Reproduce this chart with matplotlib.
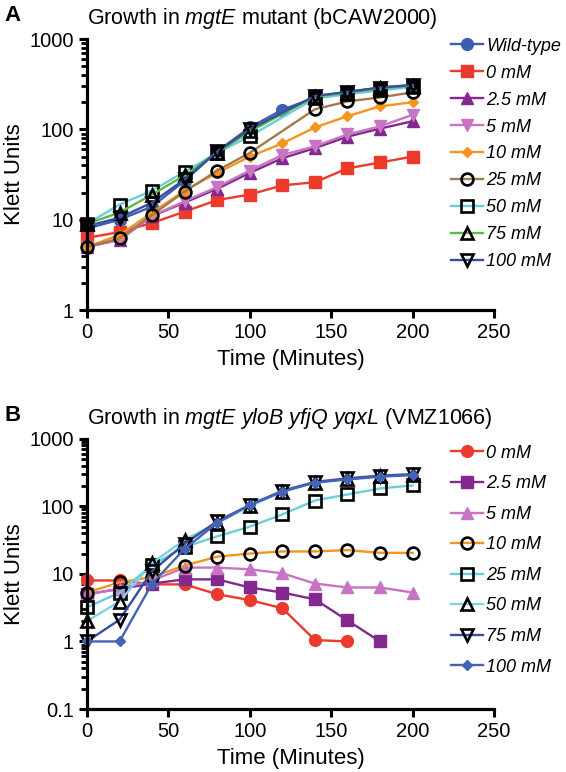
import numpy as np
import matplotlib
matplotlib.use('Agg')
import matplotlib.pyplot as plt
from matplotlib.ticker import LogLocator, NullFormatter

plt.rcParams['font.family'] = ['Liberation Sans', 'DejaVu Sans']
plt.rcParams['mathtext.fontset'] = 'custom'
plt.rcParams['mathtext.rm'] = 'Liberation Sans'
plt.rcParams['mathtext.it'] = 'Liberation Sans:italic'

# time points (minutes)
time = [0, 20, 40, 60, 80, 100, 120, 140, 160, 180, 200]

# Panel A: mgtE mutant (bCAW2000)
a_labels = ['Wild-type', '0 mM', '2.5 mM', '5 mM', '10 mM', '25 mM', '50 mM', '75 mM', '100 mM']
a_values = [
    [8, 10, 14, 27, 57, 105, 165, 225, 260, 290, 310],
    [6.3, 7.3, 9.2, 12.3, 16.5, 19, 24, 26, 37, 43, 50],
    [5, 6, 11, 15.5, 22, 33, 48, 62, 83, 102, 123],
    [5, 6, 11, 16, 23, 35, 52, 65, 88, 108, 145],
    [5, 6.8, 12, 21, 33, 50, 70, 105, 140, 180, 200],
    [5, 6.2, 11.3, 20.5, 35, 55, None, 167, 204, 226, 257],
    [9, 14.7, 21, 34, 55, 84, None, 220, 245, 270, 295],
    [9, 12, 19, 31, 55, 95, None, 230, 255, 285, 305],
    [8.5, 10.5, 15.5, 28, 57, 100, None, 235, 260, 290, 310],
]
a_colors = ['#3F5DB0', '#EC3A2C', '#82288F', '#C873C3', '#F7941D',
            '#A5794E', '#6CCDDF', '#5CB947', '#3A4E9E']
a_markers = ['o', 's', '^', 'v', 'D', 'o', 's', '^', 'v']
a_open = [False, False, False, False, False, True, True, True, True]

# Panel B: mgtE yloB yfjQ yqxL (VMZ1066)
b_labels = ['0 mM', '2.5 mM', '5 mM', '10 mM', '25 mM', '50 mM', '75 mM', '100 mM']
b_values = [
    [8, 8, 7, 7, 5, 4.1, 3.1, 1.05, 1.0, None, None],
    [5, 6, 7.2, 8.3, 8.3, 6.3, 5.3, 4.2, 2.05, 1.0, None],
    [5, 6, 8, 12.4, 12.4, 11.7, 10.2, 7.2, 6.3, 6.3, 5.3],
    [5.3, 7.5, 9, 13.3, 18, 20, 21.5, 21.5, 22.5, 20.5, 20.5],
    [3.2, 5.3, 13.6, 25, 36, 50, 76, 122, 150, 184, 204],
    [2, 3.9, 14.5, 32, 57, 100, 165, 225, 255, 280, 295],
    [1, 2.1, 11, 28, 60, 105, 170, 230, 260, 285, 300],
    [1, 1, 7.2, 23.5, 57, 105, 165, 225, 250, 275, 290],
]
b_colors = ['#EC3A2C', '#82288F', '#C873C3', '#F7941D',
            '#6CCDDF', '#7FD3E0', '#3A4E9E', '#4363B6']
b_markers = ['o', 's', '^', 'o', 's', '^', 'v', 'D']
b_open = [False, False, False, True, True, True, True, False]


def draw_panel(ax, labels, values, colors, markers, opens, ymin):
    t = np.array(time, dtype=float)
    for lab, vals, c, m, op in zip(labels, values, colors, markers, opens):
        y = np.array([np.nan if v is None else v for v in vals], dtype=float)
        ok = ~np.isnan(y)
        ms = 8.5 if m in 'o^vs' else 6.5
        if m == 'D':
            ms = 5.5
        if op:
            ax.plot(t[ok], y[ok], color=c, lw=1.7, marker=m, ms=ms,
                    mfc='none', mec='black', mew=1.9, label=lab)
        else:
            ax.plot(t[ok], y[ok], color=c, lw=1.7, marker=m, ms=ms,
                    mfc=c, mec=c, label=lab)
    ax.set_yscale('log')
    ax.set_ylim(ymin, 1000)
    ax.set_xlim(0, 250)
    ax.set_xticks([0, 50, 100, 150, 200, 250])
    ax.yaxis.set_minor_locator(LogLocator(base=10, subs=np.arange(2, 10)))
    ax.yaxis.set_minor_formatter(NullFormatter())
    ax.set_yticks([10 ** k for k in range(int(np.log10(ymin)), 4)])
    ax.set_yticklabels([('%g' % (10 ** k)) for k in range(int(np.log10(ymin)), 4)])
    for s in ['top', 'right']:
        ax.spines[s].set_visible(False)
    for s in ['left', 'bottom']:
        ax.spines[s].set_linewidth(2.3)
    ax.tick_params(which='major', direction='out', length=6, width=2.2, labelsize=14.5)
    ax.tick_params(which='minor', direction='out', length=4, width=2)
    ax.set_xlabel('Time (Minutes)', fontsize=16, labelpad=5)
    ax.set_ylabel('Klett Units', fontsize=16, labelpad=3)
    for ln in ax.lines:
        ln.set_clip_on(False)


fig = plt.figure(figsize=(5.66, 7.72), dpi=100)

ax1 = fig.add_axes([0.1537, 0.5984, 0.719, 0.351])
draw_panel(ax1, a_labels, a_values, a_colors, a_markers, a_open, 1)
ax1.text(0.0, 1.03, r'Growth in $\mathit{mgtE}$ mutant (bCAW2000)',
         transform=ax1.transAxes, fontsize=15.5, ha='left', va='bottom')
leg1 = ax1.legend(loc='upper left', bbox_to_anchor=(0.895, 1.005), frameon=False,
                  fontsize=13, handlelength=1.75, handletextpad=0.2,
                  labelspacing=0.55, borderaxespad=0, borderpad=0)
for tx in leg1.get_texts():
    tx.set_style('italic')
fig.text(0.008, 0.973, 'A', fontsize=16, fontweight='bold')

ax2 = fig.add_axes([0.1537, 0.0816, 0.719, 0.35])
draw_panel(ax2, b_labels, b_values, b_colors, b_markers, b_open, 0.1)
ax2.text(0.0, 1.03, r'Growth in $\mathit{mgtE\ yloB\ yfjQ\ yqxL}$ (VMZ1066)',
         transform=ax2.transAxes, fontsize=15.5, ha='left', va='bottom')
leg2 = ax2.legend(loc='upper left', bbox_to_anchor=(0.895, 0.978), frameon=False,
                  fontsize=13, handlelength=1.75, handletextpad=0.2,
                  labelspacing=0.75, borderaxespad=0, borderpad=0)
for tx in leg2.get_texts():
    tx.set_style('italic')
fig.text(0.008, 0.455, 'B', fontsize=16, fontweight='bold')

fig.savefig('out.png', dpi=100)
